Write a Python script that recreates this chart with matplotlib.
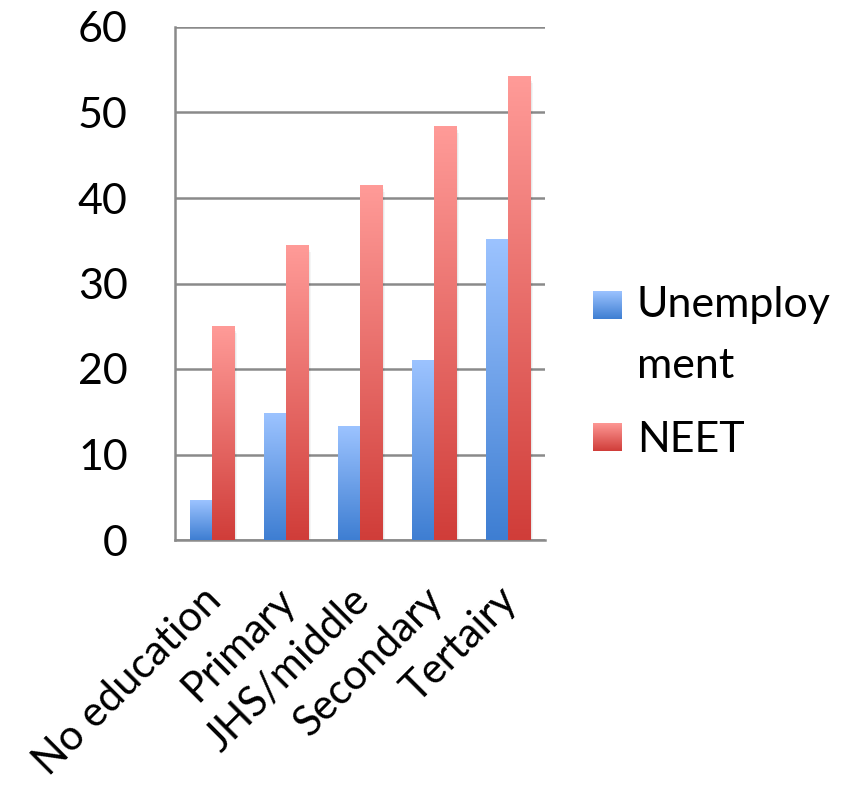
import numpy as np
import matplotlib
matplotlib.use("Agg")
import matplotlib.pyplot as plt
from matplotlib.colors import LinearSegmentedColormap
from matplotlib.patches import Rectangle

categories = ["No education", "Primary", "JHS/middle", "Secondary", "Tertairy"]
unemployment = [4.6, 14.8, 13.3, 21.0, 35.1]
neet = [25.0, 34.4, 41.5, 48.4, 54.2]
series_labels = ["Unemploy\nment", "NEET"]
yticks = [0, 10, 20, 30, 40, 50, 60]

plt.rcParams['font.family'] = ['Lato', 'DejaVu Sans']

W, H = 850, 789
fig = plt.figure(figsize=(W / 100, H / 100), dpi=100)
ax = fig.add_axes([175 / W, 1 - 540 / H, (545 - 175) / W, (540 - 27) / H])

blue_cmap = LinearSegmentedColormap.from_list("b", ["#3E7ED2", "#9CC3FF"])
red_cmap = LinearSegmentedColormap.from_list("r", ["#D03D39", "#FF9B98"])
grad = np.linspace(0, 1, 256).reshape(-1, 1)

bw = 0.3
x = np.arange(len(categories))

def grad_bars(xs, vals, cmap):
    bars = ax.bar(xs, vals, width=bw, color="none", zorder=3)
    for b in bars:
        x0, y0 = b.get_x(), b.get_y()
        w, h = b.get_width(), b.get_height()
        for k, a in enumerate([0.06, 0.05, 0.04]):
            d = 0.012 * (k + 1)
            ax.add_patch(Rectangle((x0 + d, y0 - 0.25 * (k + 1)), w, h, facecolor="black",
                                   alpha=a, edgecolor="none", zorder=2))
        ax.imshow(grad, cmap=cmap, origin="lower", extent=[x0, x0 + w, y0, y0 + h],
                  aspect="auto", zorder=3, interpolation="bilinear")

grad_bars(x - bw / 2, unemployment, blue_cmap)
grad_bars(x + bw / 2, neet, red_cmap)

ax.set_xlim(-0.5, len(categories) - 0.5)
ax.set_ylim(0, 60)
ax.set_yticks(yticks)
ax.set_yticklabels([str(v) for v in yticks], fontsize=31)
ax.set_xticks(x)
ax.set_xticklabels([])
for xi, lab in zip(x, categories):
    ax.annotate(lab, xy=(xi, 0), xycoords=("data", "axes fraction"),
                xytext=(2, -39), textcoords="offset points",
                fontsize=30, rotation=45, ha="right", va="center",
                rotation_mode="anchor", annotation_clip=False)
ax.tick_params(axis="both", length=0)
ax.tick_params(axis="y", pad=34)
ax.yaxis.grid(True, color="#8A8A8A", linewidth=1.8, zorder=1)
ax.set_axisbelow(True)
for s in ["top", "right"]:
    ax.spines[s].set_visible(False)
for s in ["left", "bottom"]:
    ax.spines[s].set_color("#8A8A8A")
    ax.spines[s].set_linewidth(1.8)

def legend_square(y_top, cmap):
    lax = fig.add_axes([593 / W, 1 - (y_top + 28) / H, 29 / W, 28 / H])
    lax.imshow(grad, cmap=cmap, origin="lower", aspect="auto", extent=[0, 1, 0, 1])
    lax.set_axis_off()

legend_square(291, blue_cmap)
legend_square(423, red_cmap)
l1, l2 = series_labels[0].split("\n")
fig.text(637 / W, 1 - 317 / H, l1, fontsize=31, va="baseline", ha="left")
fig.text(637 / W, 1 - 378 / H, l2, fontsize=31, va="baseline", ha="left")
fig.text(637 / W, 1 - 452 / H, series_labels[1], fontsize=31, va="baseline", ha="left")

fig.savefig("out.png", dpi=100)
